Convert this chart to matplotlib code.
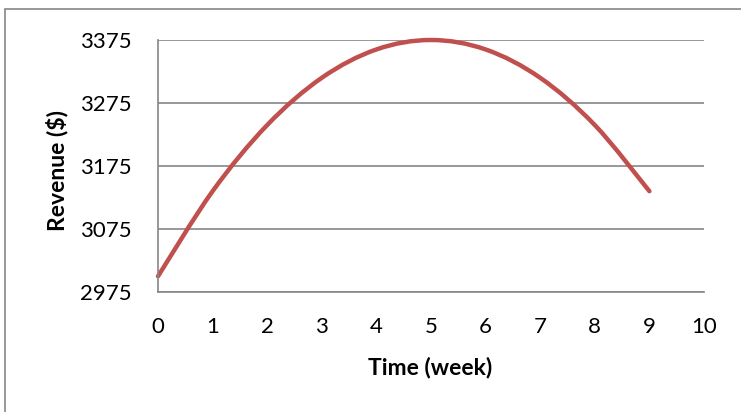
import numpy as np
import matplotlib.pyplot as plt
from matplotlib.path import Path
from matplotlib.patches import PathPatch, Rectangle

plt.rcParams["font.family"] = ["Lato", "DejaVu Sans"]

weeks = [0, 1, 2, 3, 4, 5, 6, 7, 8, 9]
revenue = [3000, 3135, 3240, 3315, 3360, 3375, 3360, 3315, 3240, 3135]
yticks = [2975, 3075, 3175, 3275, 3375]
xticks = [0, 1, 2, 3, 4, 5, 6, 7, 8, 9, 10]

grid_col = "#868686"
line_col = "#C0504D"


def smooth_path(x, y, k=1.0 / 6):
    # Catmull-Rom style cubic Bezier through the points (spreadsheet "smoothed line")
    x = np.asarray(x, float)
    y = np.asarray(y, float)
    n = len(x)
    verts = [(x[0], y[0])]
    codes = [Path.MOVETO]
    for i in range(n - 1):
        i0 = max(i - 1, 0)
        i3 = min(i + 2, n - 1)
        c1 = (x[i] + (x[i + 1] - x[i0]) * k, y[i] + (y[i + 1] - y[i0]) * k)
        c2 = (x[i + 1] - (x[i3] - x[i]) * k, y[i + 1] - (y[i3] - y[i]) * k)
        verts += [c1, c2, (x[i + 1], y[i + 1])]
        codes += [Path.CURVE4] * 3
    return Path(verts, codes)


fig = plt.figure(figsize=(7.41, 4.12), dpi=100)
W, H = 741, 412

# outer chart frame
fig.patches.append(Rectangle((5 / W, -0.1), 1.2, (412 - 9) / H + 0.1,
                             transform=fig.transFigure, fill=False,
                             edgecolor=grid_col, lw=1.2))

ax = fig.add_axes([158 / W, (H - 292) / H, 546 / W, 252 / H])
ax.set_xlim(0, 10)
ax.set_ylim(2975, 3375)
ax.set_xticks(xticks)
ax.set_yticks(yticks)
ax.grid(axis="y", color=grid_col, lw=1.2)
ax.set_axisbelow(True)
for side in ["top", "right"]:
    ax.spines[side].set_visible(False)
for side in ["left", "bottom"]:
    ax.spines[side].set_color(grid_col)
    ax.spines[side].set_linewidth(1.2)
ax.tick_params(length=0, labelsize=16, colors="black")
ax.tick_params(axis="y", pad=19)
ax.tick_params(axis="x", pad=18)

ax.add_patch(PathPatch(smooth_path(weeks, revenue), fill=False,
                       edgecolor=line_col, lw=3.2, capstyle="round",
                       clip_on=False))

fig.text(430 / W, 1 - 367 / H, "Time (week)", ha="center", va="center",
         fontsize=16.5, fontweight="bold")
fig.text(57 / W, 1 - 170 / H, "Revenue ($)", ha="center", va="center",
         rotation=90, fontsize=16.5, fontweight="bold")

fig.savefig("out.png", dpi=100)
